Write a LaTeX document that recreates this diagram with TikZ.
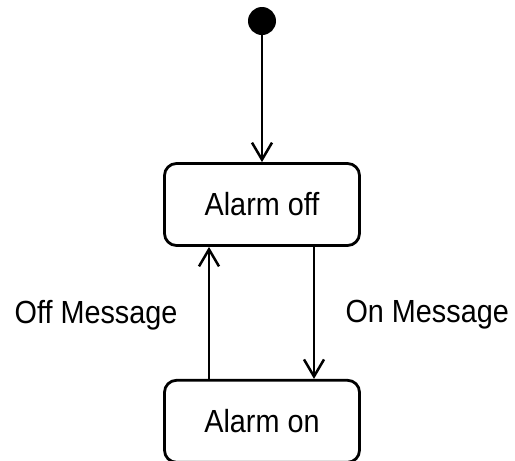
\documentclass[tikz,border=0pt]{standalone}
\usepackage{fontspec}
\setmainfont[FakeStretch=0.9]{Liberation Sans}
\usetikzlibrary{positioning,arrows.meta}

\begin{document}
\begin{tikzpicture}[x=1pt,y=-1pt,node distance=132pt,
  state/.style={draw,rounded corners=12pt,minimum width=195pt,minimum height=82pt,
    line width=2.8pt,font=\fontsize{32}{38}\selectfont},
  label/.style={font=\fontsize{32}{38}\selectfont},
  >={Straight Barb[length=17pt,width=20pt,line width=2.5pt]}]
  \useasboundingbox (0,0) rectangle (515,461);
  \node(init)[circle,fill,inner sep=0pt,minimum size=28pt] at (262,21){};
  \node(off)[state] at (262,204.5){Alarm off};
  \node(on)[state,below=of off]{Alarm on};
  \path[->,line width=2.5pt]
        (init) edge (off)
        ([xshift=-53pt]on.north) edge node[label,left=27pt,yshift=-2pt]{Off Message} ([xshift=-53pt]off.south)
        ([xshift=52pt]off.south) edge node[label,right=27pt,yshift=-2pt]{On Message} ([xshift=52pt]on.north);
\end{tikzpicture}
\end{document}
